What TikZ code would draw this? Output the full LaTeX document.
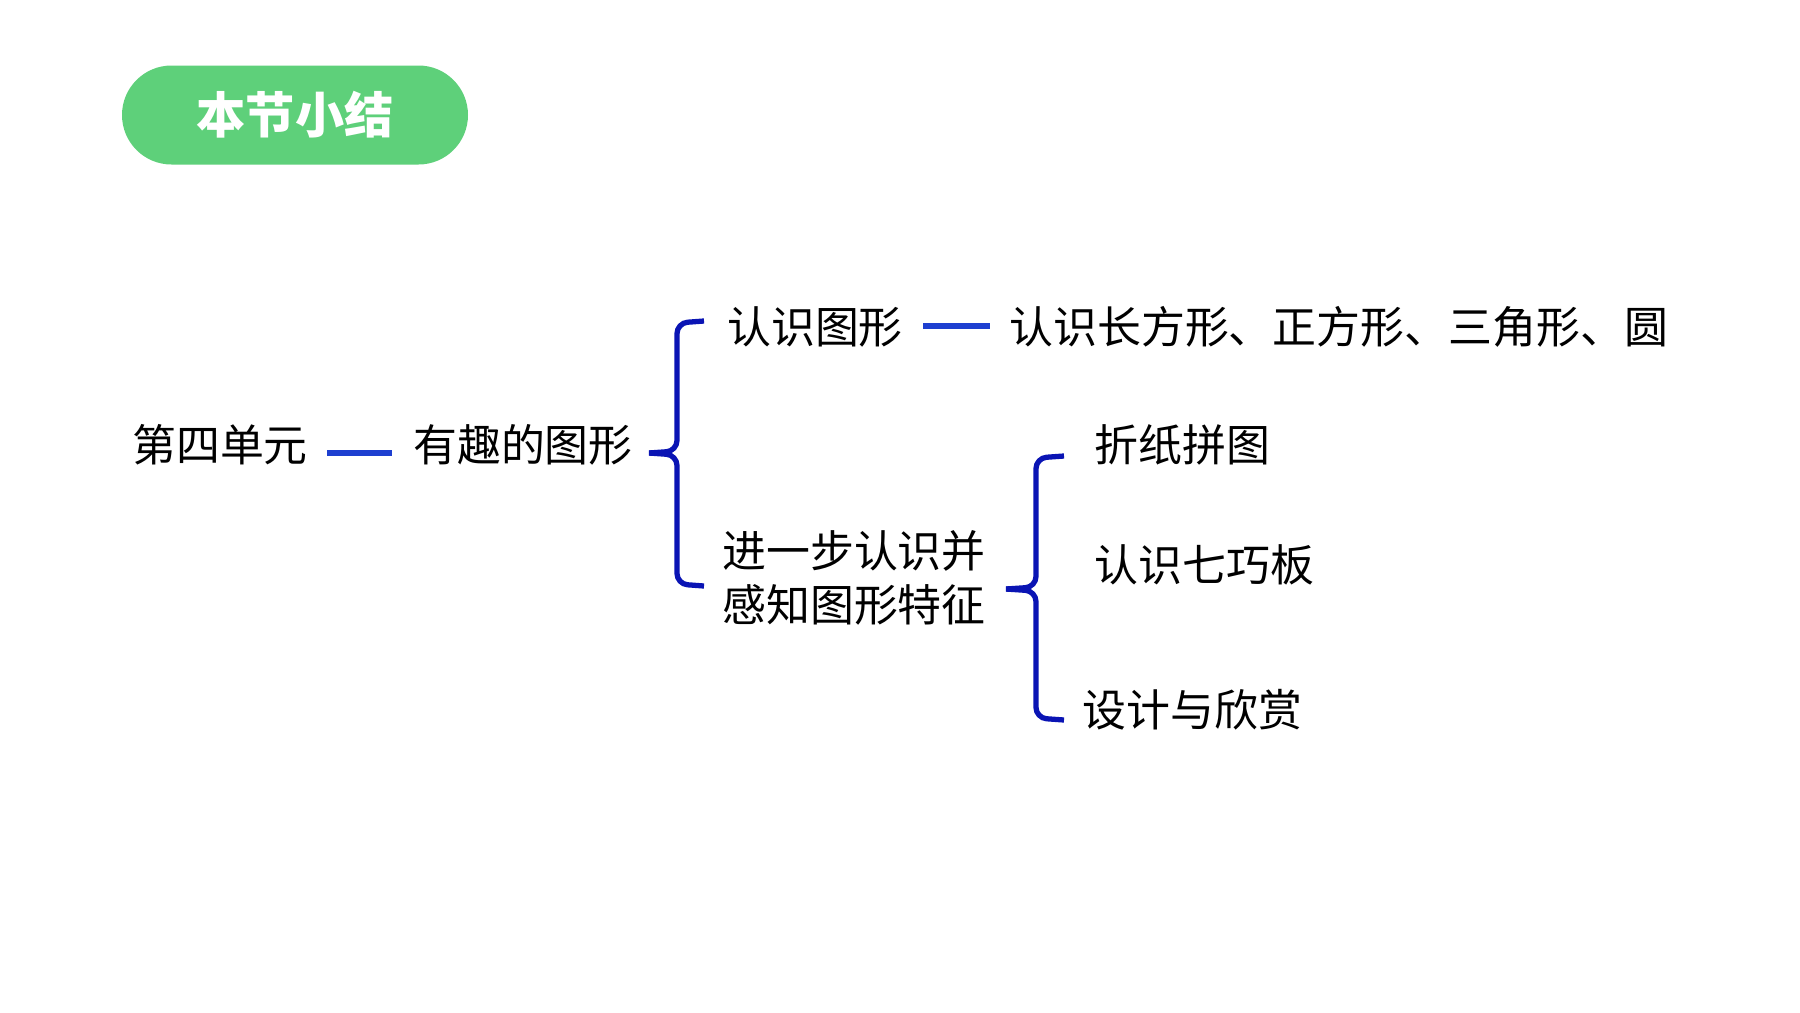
\documentclass[tikz,border=0pt]{standalone}
\usepackage{fontspec}
\setmainfont{Noto Sans CJK SC}
\begin{document}
\begin{tikzpicture}[x=0.02cm,y=-0.02cm,
  txt/.style={inner sep=0pt,font=\fontsize{25}{31}\selectfont},
  conn/.style={draw=lineblue,line width=3.5pt},
  br/.style={draw=braceblue,line width=3pt,rounded corners=6pt}]
\definecolor{lineblue}{HTML}{1E3FD0}
\definecolor{braceblue}{HTML}{0A14B4}
\definecolor{pill}{HTML}{5ED07A}
\useasboundingbox (0,0) rectangle (1800,1012);
\fill[white] (0,0) rectangle (1800,1012);
\node[fill=pill,rounded corners=49.5*0.02cm,minimum width=346*0.02cm,minimum height=99*0.02cm,inner sep=0pt,text=white,font=\fontsize{28}{34}\selectfont\bfseries] (title) at (295,115) {本节小结};
\node[txt] (unit) at (220,445) {第四单元};
\node[txt] (topic) at (523,445) {有趣的图形};
\coordinate (l1a) at (327,453); \coordinate (l1b) at (392,453);
\draw[conn] (l1a) -- (l1b);
\node[txt] (know) at (815,327) {认识图形};
\coordinate (l2a) at (923,326); \coordinate (l2b) at (990,326);
\draw[conn] (l2a) -- (l2b);
\node[txt,anchor=west] (shapes) at (1009,327) {认识长方形、正方形、三角形、圆};
\node[txt,align=center,font=\fontsize{25}{31}\selectfont] (further) at (854,578) {进一步认识并\\感知图形特征};
\node[txt,anchor=west] (fold) at (1094,445) {折纸拼图};
\node[txt,anchor=west] (tang) at (1094,565) {认识七巧板};
\node[txt,anchor=west] (design) at (1082,710) {设计与欣赏};
% brace 1
\coordinate (b1t) at (704,321); \coordinate (b1b) at (704,586); \coordinate (b1m) at (649,453);
\draw[br] (b1t) -- (677,323) -- (677,451) -- (b1m);
\draw[br] (b1b) -- (677,584) -- (677,455) -- (b1m);
% brace 2
\coordinate (b2t) at (1064,456); \coordinate (b2b) at (1064,720); \coordinate (b2m) at (1006,589);
\draw[br] (b2t) -- (1036,458) -- (1036,587) -- (b2m);
\draw[br] (b2b) -- (1036,718) -- (1036,591) -- (b2m);
\end{tikzpicture}
\end{document}
